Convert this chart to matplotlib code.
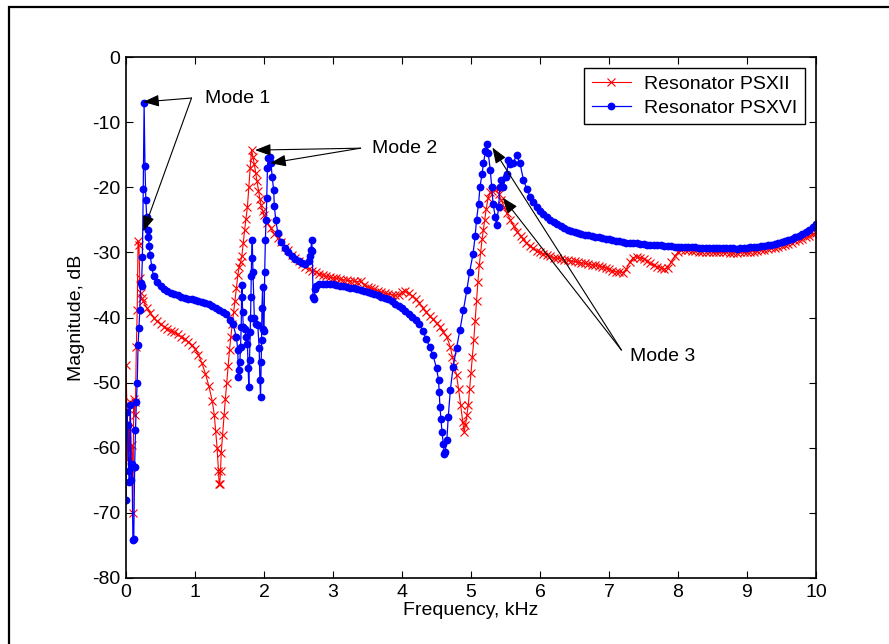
import numpy as np
import matplotlib
matplotlib.use("Agg")
import matplotlib.pyplot as plt
from matplotlib.patches import Rectangle

plt.rcParams['font.family'] = ['Liberation Sans', 'DejaVu Sans']
plt.rcParams['axes.unicode_minus'] = False

# Resonator PSXII (red)
psxii_freq = [0.0, 0.0125, 0.025, 0.0375, 0.05, 0.0625, 0.075, 0.0875, 0.1, 0.1125,
              0.125, 0.1375, 0.15, 0.1625, 0.175, 0.1875, 0.2, 0.2125, 0.225, 0.25,
              0.3, 0.35, 0.4, 0.45, 0.5, 0.55, 0.6, 0.65, 0.7, 0.75,
              0.8, 0.85, 0.9, 0.95, 1.0, 1.05, 1.1, 1.15, 1.2, 1.25,
              1.28, 1.30, 1.32, 1.34, 1.35, 1.36, 1.37, 1.38, 1.40, 1.42,
              1.44, 1.46, 1.48, 1.50, 1.52, 1.54, 1.56, 1.58, 1.60, 1.62,
              1.64, 1.66, 1.68, 1.70, 1.72, 1.74, 1.76, 1.78, 1.80, 1.82,
              1.84, 1.86, 1.88, 1.90, 1.92, 1.94, 1.96, 1.98, 2.00, 2.05,
              2.10, 2.15, 2.20, 2.25, 2.30, 2.35, 2.40, 2.45, 2.50, 2.55,
              2.60, 2.65, 2.70, 2.75, 2.80, 2.85, 2.90, 2.95, 3.00, 3.05,
              3.10, 3.15, 3.20, 3.25, 3.30, 3.35, 3.40, 3.45, 3.50, 3.55,
              3.60, 3.65, 3.70, 3.75, 3.80, 3.85, 3.90, 3.95, 4.00, 4.05,
              4.10, 4.15, 4.20, 4.25, 4.30, 4.35, 4.40, 4.45, 4.50, 4.55,
              4.60, 4.65, 4.70, 4.73, 4.76, 4.79, 4.82, 4.85, 4.88, 4.90,
              4.92, 4.94, 4.96, 4.98, 5.00, 5.02, 5.04, 5.06, 5.08, 5.10,
              5.12, 5.14, 5.16, 5.18, 5.20, 5.22, 5.25, 5.28, 5.30, 5.33,
              5.37, 5.40, 5.44, 5.48, 5.52, 5.57, 5.62, 5.67, 5.72, 5.76,
              5.80, 5.85, 5.90, 5.95, 6.00, 6.05, 6.10, 6.15, 6.20, 6.25,
              6.30, 6.35, 6.40, 6.45, 6.50, 6.55, 6.60, 6.65, 6.70, 6.75,
              6.80, 6.85, 6.90, 6.95, 7.00, 7.05, 7.10, 7.15, 7.20, 7.25,
              7.30, 7.35, 7.40, 7.45, 7.50, 7.55, 7.60, 7.65, 7.70, 7.75,
              7.80, 7.85, 7.90, 7.95, 8.00, 8.05, 8.10, 8.15, 8.20, 8.25,
              8.30, 8.35, 8.40, 8.45, 8.50, 8.55, 8.60, 8.65, 8.70, 8.75,
              8.80, 8.85, 8.90, 8.95, 9.00, 9.05, 9.10, 9.15, 9.20, 9.25,
              9.30, 9.35, 9.40, 9.45, 9.50, 9.55, 9.60, 9.65, 9.70, 9.75,
              9.80, 9.85, 9.90, 9.95, 10.00]
psxii_mag = [-47.3, -53.3, -61.8, -57.0, -60.4, -53.0, -63.0, -59.6, -70.0, -52.5,
             -55.0, -52.9, -44.5, -38.9, -28.3, -28.8, -34.0, -36.3, -37.0, -37.5,
             -38.5, -39.3, -40.0, -40.6, -41.0, -41.4, -41.7, -42.0, -42.3, -42.6,
             -43.0, -43.3, -43.7, -44.2, -44.8, -45.7, -47.0, -48.6, -50.5, -52.8,
             -55.0, -57.5, -60.0, -63.5, -65.6, -65.5, -63.5, -60.8, -58.0, -55.0,
             -52.5, -50.0, -47.5, -45.0, -43.0, -41.0, -39.2, -37.5, -35.5, -33.5,
             -32.3, -31.5, -30.5, -28.5, -26.5, -24.8, -23.0, -20.0, -17.0, -14.3,
             -15.3, -16.5, -17.8, -19.0, -20.5, -21.8, -22.8, -23.6, -24.3, -25.5,
             -26.3, -27.2, -27.8, -28.4, -29.1, -29.7, -30.4, -30.9, -31.4, -31.8,
             -32.2, -32.5, -32.8, -33.0, -33.3, -33.5, -33.7, -33.8, -33.9, -34.0,
             -34.1, -34.2, -34.3, -34.4, -34.4, -34.5, -34.4, -35.0, -35.3, -35.5,
             -35.7, -35.9, -36.1, -36.3, -36.4, -36.5, -36.6, -36.5, -36.1, -36.0,
             -36.3, -36.7, -37.1, -37.8, -38.5, -39.2, -39.8, -40.3, -40.9, -41.4,
             -42.2, -43.0, -44.5, -46.0, -47.5, -48.8, -51.0, -53.5, -56.0, -57.6,
             -56.5, -55.0, -53.5, -51.0, -48.5, -46.0, -43.5, -40.5, -37.5, -34.5,
             -32.0, -30.0, -28.0, -26.5, -25.0, -23.3, -21.6, -20.8, -20.5, -20.2,
             -20.1, -21.0, -22.0, -23.0, -24.0, -25.0, -26.0, -26.8, -27.5, -28.0,
             -28.5, -29.0, -29.4, -29.8, -30.0, -30.2, -30.4, -30.6, -30.8, -30.9,
             -31.0, -31.1, -31.2, -31.3, -31.4, -31.5, -31.6, -31.7, -31.8, -31.9,
             -32.0, -32.1, -32.2, -32.4, -32.6, -32.8, -33.0, -33.0, -33.1, -32.6,
             -31.5, -30.8, -30.7, -30.8, -31.0, -31.3, -31.7, -32.0, -32.2, -32.4,
             -32.6, -32.4, -31.5, -30.6, -30.0, -29.7, -29.6, -29.7, -29.8, -29.8,
             -29.9, -29.9, -29.9, -29.9, -30.0, -30.0, -30.0, -30.0, -30.0, -30.1,
             -30.1, -30.1, -30.0, -30.0, -30.0, -29.9, -29.9, -29.8, -29.7, -29.6,
             -29.5, -29.4, -29.3, -29.2, -29.0, -28.9, -28.7, -28.5, -28.3, -28.1,
             -27.9, -27.7, -27.5, -27.2, -27.0]

# Resonator PSXVI (blue)
psxvi_freq = [0.0, 0.0125, 0.025, 0.0375, 0.05, 0.0625, 0.075, 0.0875, 0.1, 0.1125,
              0.125, 0.1375, 0.15, 0.1625, 0.175, 0.1875, 0.2, 0.2125, 0.225, 0.2375,
              0.25, 0.2625, 0.275, 0.2875, 0.3, 0.3125, 0.325, 0.3375, 0.35, 0.375,
              0.4, 0.45, 0.5, 0.55, 0.6, 0.65, 0.7, 0.75, 0.8, 0.85,
              0.9, 0.95, 1.0, 1.05, 1.1, 1.15, 1.2, 1.25, 1.3, 1.35,
              1.4, 1.45, 1.5, 1.55, 1.60, 1.62, 1.63, 1.64, 1.65, 1.66,
              1.67, 1.675, 1.68, 1.69, 1.70, 1.72, 1.74, 1.76, 1.77, 1.78,
              1.79, 1.80, 1.805, 1.81, 1.815, 1.82, 1.83, 1.84, 1.86, 1.89,
              1.91, 1.93, 1.94, 1.95, 1.96, 1.965, 1.97, 1.98, 1.99, 2.00,
              2.01, 2.02, 2.03, 2.04, 2.05, 2.06, 2.08, 2.10, 2.12, 2.14,
              2.15, 2.17, 2.20, 2.25, 2.30, 2.35, 2.40, 2.45, 2.50, 2.55,
              2.60, 2.65, 2.67, 2.68, 2.69, 2.70, 2.71, 2.725, 2.74, 2.75,
              2.80, 2.85, 2.90, 2.95, 3.00, 3.05, 3.10, 3.15, 3.20, 3.25,
              3.30, 3.35, 3.40, 3.45, 3.50, 3.55, 3.60, 3.65, 3.70, 3.75,
              3.80, 3.85, 3.90, 3.95, 4.00, 4.05, 4.10, 4.15, 4.20, 4.25,
              4.30, 4.35, 4.40, 4.45, 4.50, 4.53, 4.54, 4.55, 4.565, 4.58,
              4.60, 4.615, 4.625, 4.65, 4.67, 4.70, 4.74, 4.79, 4.84, 4.89,
              4.94, 4.98, 5.03, 5.06, 5.08, 5.11, 5.13, 5.16, 5.18, 5.21,
              5.23, 5.25, 5.28, 5.30, 5.32, 5.35, 5.37, 5.40, 5.42, 5.44,
              5.47, 5.50, 5.52, 5.54, 5.57, 5.61, 5.66, 5.71, 5.76, 5.81,
              5.86, 5.90, 5.95, 6.00, 6.05, 6.10, 6.15, 6.20, 6.25, 6.30,
              6.35, 6.40, 6.45, 6.50, 6.55, 6.60, 6.65, 6.70, 6.75, 6.80,
              6.85, 6.90, 6.95, 7.00, 7.05, 7.10, 7.15, 7.20, 7.25, 7.30,
              7.35, 7.40, 7.45, 7.50, 7.55, 7.60, 7.65, 7.70, 7.75, 7.80,
              7.85, 7.90, 7.95, 8.00, 8.05, 8.10, 8.15, 8.20, 8.25, 8.30,
              8.35, 8.40, 8.45, 8.50, 8.55, 8.60, 8.65, 8.70, 8.75, 8.80,
              8.85, 8.90, 8.95, 9.00, 9.05, 9.10, 9.15, 9.20, 9.25, 9.30,
              9.35, 9.40, 9.45, 9.50, 9.55, 9.60, 9.65, 9.70, 9.75, 9.80,
              9.85, 9.90, 9.95, 10.00]
psxvi_mag = [-68.0, -54.5, -56.5, -63.5, -65.2, -53.5, -65.0, -62.5, -74.2, -74.0,
             -63.0, -57.3, -53.0, -50.0, -44.2, -41.6, -38.9, -34.7, -35.2, -30.7,
             -20.3, -7.1, -16.7, -22.0, -24.5, -26.5, -27.6, -29.0, -30.4, -32.3,
             -33.7, -34.6, -35.2, -35.6, -35.9, -36.2, -36.4, -36.6, -36.8, -37.0,
             -37.1, -37.2, -37.3, -37.5, -37.6, -37.8, -38.0, -38.2, -38.5, -38.9,
             -39.2, -39.5, -40.4, -41.0, -43.0, -45.0, -49.2, -48.1, -46.8, -44.5,
             -41.4, -36.8, -35.0, -39.1, -41.4, -41.8, -43.0, -44.0, -47.8, -50.6,
             -46.5, -42.2, -40.1, -36.8, -33.7, -30.9, -28.1, -33.0, -40.1, -41.0,
             -41.2, -44.7, -49.6, -52.2, -46.8, -43.5, -38.6, -35.3, -41.8, -42.0,
             -33.0, -28.1, -25.0, -21.6, -17.0, -15.5, -15.3, -16.3, -18.5, -20.4,
             -22.9, -25.0, -27.0, -28.4, -29.3, -30.0, -30.5, -31.0, -31.4, -31.7,
             -31.8, -31.3, -30.5, -29.6, -28.1, -29.8, -36.8, -37.2, -35.6, -35.2,
             -34.9, -34.8, -34.8, -34.8, -34.9, -35.0, -35.1, -35.2, -35.3, -35.4,
             -35.5, -35.7, -35.8, -36.0, -36.1, -36.3, -36.4, -36.6, -36.8, -37.0,
             -37.2, -37.5, -37.9, -38.3, -38.6, -39.0, -39.4, -39.9, -40.4, -41.0,
             -42.0, -43.3, -44.5, -45.8, -47.8, -49.6, -51.5, -53.7, -55.6, -57.6,
             -59.5, -61.0, -60.6, -58.8, -55.3, -51.2, -47.6, -44.7, -41.9, -38.8,
             -35.8, -33.0, -30.2, -27.5, -25.0, -22.5, -19.9, -18.0, -16.3, -14.5,
             -13.3, -14.8, -17.4, -19.9, -22.5, -24.5, -25.8, -23.0, -19.9, -18.9,
             -19.9, -18.5, -17.9, -15.8, -16.5, -16.3, -15.1, -16.3, -18.9, -20.3,
             -21.5, -22.2, -23.0, -23.6, -24.1, -24.6, -25.0, -25.4, -25.7, -26.0,
             -26.3, -26.5, -26.7, -26.9, -27.1, -27.2, -27.3, -27.4, -27.5, -27.6,
             -27.7, -27.8, -27.9, -28.0, -28.1, -28.2, -28.3, -28.4, -28.5, -28.5,
             -28.6, -28.6, -28.7, -28.7, -28.8, -28.8, -28.9, -28.9, -28.9, -29.0,
             -29.0, -29.0, -29.1, -29.1, -29.1, -29.2, -29.2, -29.2, -29.2, -29.3,
             -29.3, -29.3, -29.3, -29.3, -29.4, -29.4, -29.4, -29.4, -29.4, -29.4,
             -29.5, -29.4, -29.3, -29.3, -29.2, -29.1, -29.1, -29.0, -29.0, -28.9,
             -28.8, -28.7, -28.6, -28.4, -28.3, -28.1, -27.9, -27.7, -27.5, -27.2,
             -26.9, -26.5, -26.1, -25.6]

x_ticks = [0, 1, 2, 3, 4, 5, 6, 7, 8, 9, 10]
y_ticks = [0, -10, -20, -30, -40, -50, -60, -70, -80]

fig = plt.figure(figsize=(8.89, 6.44), dpi=100)
ax = fig.add_axes([126 / 889, 1 - 578 / 644, 690 / 889, 521 / 644])

ax.plot(psxii_freq, psxii_mag, color='r', lw=0.8, marker='x', ms=6, mew=0.8,
        label='Resonator PSXII')
ax.plot(psxvi_freq, psxvi_mag, color='b', lw=0.9, marker='o', ms=5.6, mew=0,
        label='Resonator PSXVI')

ax.set_xlim(0, 10)
ax.set_ylim(-80, 0)
ax.set_xticks(x_ticks)
ax.set_yticks(y_ticks)
ax.tick_params(direction='in', length=5, top=True, right=True, labelsize=14, pad=4)
for sp in ax.spines.values():
    sp.set_linewidth(1.2)
ax.set_xlabel('Frequency, kHz', fontsize=14, labelpad=1)
ax.set_ylabel('Magnitude, dB', fontsize=14, labelpad=5)

leg = ax.legend(loc='upper right', fontsize=14, fancybox=False, framealpha=1,
                edgecolor='k', borderaxespad=0.55, handlelength=2.0,
                handletextpad=0.7, borderpad=0.4, labelspacing=0.3)
leg.get_frame().set_linewidth(1.0)

# annotations
arrow = dict(arrowstyle='-|>,head_length=0.8,head_width=0.3', color='k', lw=0.8,
             shrinkA=0, shrinkB=0, mutation_scale=12)
ax.text(1.15, -6.3, 'Mode 1', fontsize=14, va='center', ha='left')
ax.annotate('', xy=(0.25, -6.9), xytext=(0.95, -6.3), arrowprops=arrow)
ax.annotate('', xy=(0.25, -26.8), xytext=(0.95, -6.3), arrowprops=arrow)

ax.text(3.57, -14.0, 'Mode 2', fontsize=14, va='center', ha='left')
ax.annotate('', xy=(1.87, -14.3), xytext=(3.4, -14.0), arrowprops=arrow)
ax.annotate('', xy=(2.09, -16.3), xytext=(3.4, -14.0), arrowprops=arrow)

ax.text(7.3, -46.0, 'Mode 3', fontsize=14, va='center', ha='left')
ax.annotate('', xy=(5.31, -13.9), xytext=(7.18, -45.0), arrowprops=arrow)
ax.annotate('', xy=(5.46, -21.6), xytext=(7.18, -45.0), arrowprops=arrow)

fig.add_artist(Rectangle((9 / 889, -0.2), 1.2, 1.2 - 7 / 644, transform=fig.transFigure,
                         fill=False, edgecolor='k', lw=1.6))

fig.savefig('out.png', dpi=100)
